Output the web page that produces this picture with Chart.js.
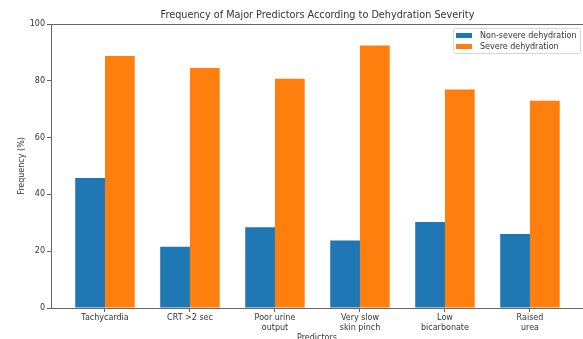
<!DOCTYPE html>
<html>
<head>
<meta charset="utf-8">
<script src="https://cdn.jsdelivr.net/npm/chart.js@4/dist/chart.umd.min.js"></script>
<style>
  html, body { margin: 0; padding: 0; background: #fff; }
  canvas { display: block; }
</style>
</head>
<body>
<canvas id="chart" width="583" height="339"></canvas>
<script>
// Данные
const predictors = [
  "Tachycardia",
  "CRT >2 sec",
  ["Poor urine", "output"],
  ["Very slow", "skin pinch"],
  ["Low", "bicarbonate"],
  ["Raised", "urea"],
];
const nonSevere = [45.8, 21.6, 28.4, 23.8, 30.3, 26.1];
const severe = [88.7, 84.5, 80.7, 92.4, 76.9, 73.0];
const yTicks = [0, 20, 40, 60, 80, 100];

const chartTitle = "Frequency of Major Predictors According to Dehydration Severity";
const fontFamily = "'DejaVu Sans', sans-serif";
const textColor = "#333";
const spineColor = "#666";

let canvas = window.document.querySelector("canvas");
let context = canvas.getContext("2d");

// Рамка сверху, заголовок и легенда в стиле matplotlib
const decorPlugin = {
  id: "decor",
  afterDraw(chart) {
    const { ctx, chartArea } = chart;
    ctx.save();
    // верхняя линия рамки
    ctx.strokeStyle = spineColor;
    ctx.lineWidth = 1;
    ctx.beginPath();
    ctx.moveTo(chartArea.left, Math.round(chartArea.top) + 0.5);
    ctx.lineTo(chartArea.right, Math.round(chartArea.top) + 0.5);
    ctx.stroke();
    // заголовок
    ctx.fillStyle = textColor;
    ctx.font = "9.7px " + fontFamily;
    ctx.textAlign = "center";
    ctx.textBaseline = "middle";
    ctx.fillText(chartTitle, (chartArea.left + 584) / 2, 15);
    // легенда
    let boxX = 453.5, boxY = 28.5, boxW = 127, boxH = 25;
    ctx.fillStyle = "rgba(255,255,255,0.85)";
    ctx.strokeStyle = "#d6d6d6";
    ctx.beginPath();
    ctx.roundRect(boxX, boxY, boxW, boxH, 2);
    ctx.fill();
    ctx.stroke();
    ctx.font = "8px " + fontFamily;
    ctx.textAlign = "left";
    chart.data.datasets.forEach((ds, i) => {
      let cy = 35.5 + i * 11;
      ctx.fillStyle = ds.backgroundColor;
      ctx.fillRect(456, cy - 2.5, 16, 5);
      ctx.fillStyle = textColor;
      ctx.fillText(ds.label, 480, cy);
    });
    ctx.restore();
  },
};

let data = {
  datasets: [
    {
      label: "Non-severe dehydration",
      data: nonSevere.map((v, i) => ({ x: i, y: v })),
      backgroundColor: "#1f77b4",
      borderWidth: 0,
      categoryPercentage: 0.7,
      barPercentage: 1.0,
    },
    {
      label: "Severe dehydration",
      data: severe.map((v, i) => ({ x: i, y: v })),
      backgroundColor: "#ff7f0e",
      borderWidth: 0,
      categoryPercentage: 0.7,
      barPercentage: 1.0,
    },
  ],
};

let xScaleConfig = {
  type: "linear",
  offset: false,
  min: -0.635,
  max: 5.624,
  afterBuildTicks: (axis) => {
    axis.ticks = predictors.map((p, i) => ({ value: i }));
  },
  afterFit: (axis) => {
    axis.height = 31;
  },
  ticks: {
    autoSkip: false,
    maxRotation: 0,
    padding: 1,
    color: textColor,
    font: { family: fontFamily, size: 8, lineHeight: 1.25 },
    callback: (value) => predictors[value],
  },
  grid: {
    offset: false,
    drawOnChartArea: false,
    drawTicks: true,
    tickLength: 4,
    color: spineColor,
  },
  border: { color: spineColor, width: 1 },
  title: {
    display: true,
    text: "Predictors",
    color: textColor,
    font: { family: fontFamily, size: 8, lineHeight: 1.2 },
    padding: { top: 0, bottom: -4 },
  },
};

let yScaleConfig = {
  min: 0,
  max: 100,
  afterBuildTicks: (axis) => {
    axis.ticks = yTicks.map((v) => ({ value: v }));
  },
  afterFit: (axis) => {
    axis.width = 51;
  },
  ticks: {
    padding: 2,
    color: textColor,
    font: { family: fontFamily, size: 8 },
  },
  grid: {
    drawOnChartArea: false,
    drawTicks: true,
    tickLength: 4,
    color: spineColor,
  },
  border: { color: spineColor, width: 1 },
  title: {
    display: true,
    text: "Frequency (%)",
    color: textColor,
    font: { family: fontFamily, size: 8, lineHeight: 1.2 },
    padding: { top: 17, bottom: 0 },
  },
};

let config = {
  type: "bar",
  data: data,
  options: {
    responsive: false,
    animation: false,
    devicePixelRatio: 1,
    layout: { padding: { top: 24, left: 0, right: 0, bottom: 0 } },
    scales: {
      x: xScaleConfig,
      y: yScaleConfig,
    },
    plugins: {
      legend: { display: false },
      title: { display: false },
      tooltip: { enabled: false },
    },
  },
  plugins: [decorPlugin],
};

let chart = new Chart(context, config);
</script>
</body>
</html>
